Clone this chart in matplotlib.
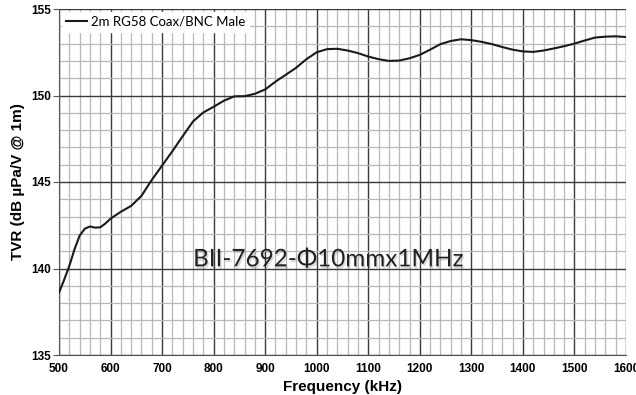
import matplotlib.pyplot as plt
import matplotlib.patheffects as pe
import numpy as np

# TVR curve (frequency in kHz, TVR in dB uPa/V @ 1m)
freq = [500, 510, 520, 530, 540, 550, 560, 570, 580, 590, 600, 620, 640, 660,
        680, 700, 720, 740, 760, 780, 800, 820, 840, 860, 880, 900, 920, 940,
        960, 980, 1000, 1020, 1040, 1060, 1080, 1100, 1120, 1140, 1160, 1180,
        1200, 1220, 1240, 1260, 1280, 1300, 1320, 1340, 1360, 1380, 1400,
        1420, 1440, 1460, 1480, 1500, 1520, 1540, 1560, 1580, 1600]
tvr = [138.6, 139.35, 140.15, 141.1, 141.9, 142.3, 142.43, 142.36, 142.38,
       142.6, 142.88, 143.28, 143.62, 144.2, 145.12, 145.95, 146.78, 147.65,
       148.5, 149.02, 149.35, 149.7, 149.95, 149.96, 150.1, 150.35, 150.8,
       151.2, 151.6, 152.1, 152.5, 152.68, 152.7, 152.6, 152.45, 152.25,
       152.1, 152.0, 152.02, 152.15, 152.35, 152.65, 152.97, 153.15, 153.25,
       153.2, 153.1, 152.97, 152.8, 152.65, 152.55, 152.52, 152.6, 152.72,
       152.85, 153.0, 153.18, 153.35, 153.4, 153.42, 153.38]

series_label = "2m RG58 Coax/BNC Male"
watermark = "BII-7692-Φ10mmx1MHz"

fig = plt.figure(figsize=(6.36, 3.95), dpi=100)
ax = fig.add_axes([59 / 636, 1 - 355 / 395, 567 / 636, 346 / 395])

ax.plot(freq, tvr, color='#1a1a1a', lw=1.5, label=series_label, zorder=3)

ax.set_xlim(500, 1600)
ax.set_ylim(135, 155)
ax.set_xticks(np.arange(500, 1601, 100))
ax.set_xticks(np.arange(500, 1601, 20), minor=True)
ax.set_yticks(np.arange(135, 156, 5))
ax.set_yticks(np.arange(135, 156, 1), minor=True)

ax.grid(which='minor', color='#b8b8b8', lw=0.9, zorder=1)
ax.grid(which='major', color='#3a3a3a', lw=1.0, zorder=2)
ax.set_axisbelow(True)

for s in ['top', 'right']:
    ax.spines[s].set_visible(False)
for s in ['left', 'bottom']:
    ax.spines[s].set_color('#555555')

ax.tick_params(axis='y', which='major', length=4, color='#555555',
               labelsize=8.5, pad=2)
ax.tick_params(axis='x', which='major', length=0, labelsize=8.5, pad=6)
ax.tick_params(which='minor', length=0)
for lbl in ax.get_xticklabels() + ax.get_yticklabels():
    lbl.set_fontweight('bold')
    lbl.set_fontfamily('Liberation Sans')

ax.set_xlabel("Frequency (kHz)", fontsize=11, fontweight='bold',
              family='Liberation Sans', labelpad=3)
ax.set_ylabel("TVR (dB µPa/V @ 1m)", fontsize=11, fontweight='bold',
              family='Liberation Sans', labelpad=4)

leg = ax.legend(loc='upper left', frameon=True, fancybox=False, framealpha=1,
                edgecolor='white', facecolor='white', handlelength=1.6,
                handletextpad=0.3, borderpad=0.3, borderaxespad=0.2,
                prop={'family': 'Lato', 'size': 9.5})

ax.text(0.475, 0.275, watermark, transform=ax.transAxes, ha='center',
        va='center', fontsize=17.5, family='Lato', color='#222222', zorder=4,
        path_effects=[pe.withSimplePatchShadow(offset=(1, -1.5), alpha=0.15)])

plt.savefig("out.png", dpi=100)
